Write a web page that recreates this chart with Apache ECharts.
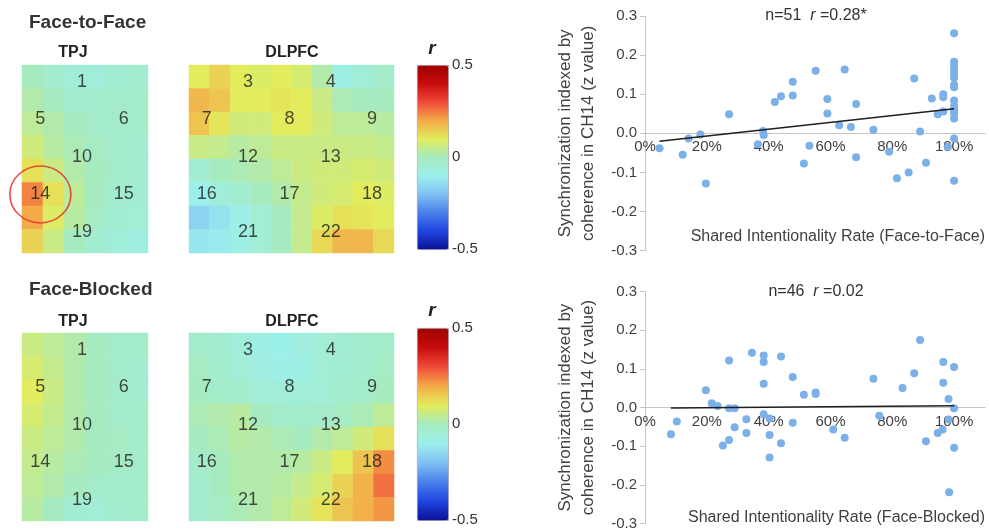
<!DOCTYPE html>
<html><head><meta charset="utf-8">
<script src="https://cdn.jsdelivr.net/npm/echarts@6/dist/echarts.min.js"></script>
<style>html,body{margin:0;padding:0;background:#fff}#c{width:989px;height:531px}</style>
</head><body><div id="c"></div>
<script>
// ---------------- DATA ----------------
// channel labels: [name, column, row]
const tpjChannels = [['1',1,0],['5',0,1],['6',2,1],['10',1,2],['14',0,3],['15',2,3],['19',1,4]];
const dlpfcChannels = [['3',1,0],['4',3,0],['7',0,1],['8',2,1],['9',4,1],['12',1,2],['13',3,2],
  ['16',0,3],['17',2,3],['18',4,3],['21',1,4],['22',3,4]];
const highlightedChannel = '14';

// r values (rows top->bottom, columns left->right)
const tpjFaceToFace = [
  [0.00,-0.03,-0.06,-0.06,-0.04,-0.03],
  [0.02, 0.00,-0.03,-0.03,-0.02,-0.02],
  [0.04, 0.02, 0.00,-0.02,-0.02,-0.02],
  [0.07, 0.03, 0.01,-0.01,-0.02,-0.03],
  [0.12, 0.06, 0.02, 0.00,-0.02,-0.03],
  [0.24, 0.12, 0.04, 0.00,-0.03,-0.04],
  [0.20, 0.09, 0.03,-0.01,-0.04,-0.05],
  [0.14, 0.06, 0.00,-0.04,-0.06,-0.07]
];
const dlpfcFaceToFace = [
  [0.10, 0.14, 0.10, 0.09, 0.10, 0.08, 0.02,-0.08,-0.05,-0.02],
  [0.18, 0.16, 0.10, 0.10, 0.11, 0.10, 0.06, 0.01, 0.00, 0.00],
  [0.16, 0.11, 0.07, 0.07, 0.10, 0.10, 0.07, 0.04, 0.04, 0.03],
  [0.06, 0.05, 0.03, 0.04, 0.06, 0.06, 0.06, 0.06, 0.06, 0.05],
  [-0.04,0.00, 0.01, 0.02, 0.04, 0.06, 0.07, 0.07, 0.08, 0.07],
  [-0.10,-0.06,-0.04,0.00, 0.02, 0.05, 0.07, 0.08, 0.10, 0.09],
  [-0.16,-0.13,-0.09,-0.05,0.00, 0.05, 0.09, 0.12, 0.11, 0.10],
  [-0.12,-0.11,-0.08,-0.05,0.00, 0.05, 0.13, 0.18, 0.18, 0.13]
];
const tpjFaceBlocked = [
  [0.06, 0.04, 0.02, 0.00,-0.02,-0.02],
  [0.08, 0.05, 0.02, 0.00,-0.02,-0.03],
  [0.10, 0.06, 0.02, 0.00,-0.02,-0.03],
  [0.08, 0.05, 0.02, 0.00,-0.02,-0.02],
  [0.06, 0.04, 0.02, 0.00,-0.01,-0.02],
  [0.05, 0.03, 0.01, 0.00,-0.01,-0.02],
  [0.04, 0.02, 0.00,-0.02,-0.02,-0.02],
  [0.03, 0.00,-0.04,-0.05,-0.03,-0.02]
];
const dlpfcFaceBlocked = [
  [-0.02,-0.04,-0.06,-0.08,-0.10,-0.07,-0.05,-0.04,-0.03,-0.02],
  [-0.01,-0.03,-0.05,-0.07,-0.09,-0.08,-0.05,-0.04,-0.03,-0.01],
  [0.00,-0.02,-0.03,-0.05,-0.06,-0.06,-0.05,-0.03,-0.02, 0.00],
  [0.01, 0.02, 0.03, 0.00,-0.02,-0.03,-0.02,-0.01, 0.01, 0.04],
  [0.00, 0.01, 0.03, 0.02, 0.01, 0.00, 0.02, 0.04, 0.07, 0.12],
  [-0.02,0.00, 0.02, 0.02, 0.02, 0.03, 0.06, 0.10, 0.16, 0.23],
  [-0.03,0.00, 0.02, 0.02, 0.03, 0.05, 0.08, 0.14, 0.19, 0.26],
  [-0.03,-0.01,0.01, 0.02, 0.04, 0.07, 0.11, 0.16, 0.19, 0.22]
];
const rBarTicks = [-0.5, 0, 0.5];

// Scatter: Face-to-Face (n=51)
const f2fRate = [0.047,0.122,0.141,0.179,0.197,0.272,0.365,0.382,0.384,0.42,0.44,0.478,0.478,0.514,0.532,
  0.552,0.59,0.59,0.628,0.646,0.666,0.683,0.683,0.739,0.79,0.815,0.853,0.871,0.89,0.909,0.928,0.947,
  0.965,0.965,0.965,0.98,1,1,1,1,1,1,1,1,1,1,1,1,1,1,1];
const f2fSync = [-0.038,-0.055,-0.013,-0.003,-0.128,0.049,-0.028,0.006,-0.004,0.080,0.095,0.132,0.097,-0.077,-0.032,
  0.160,0.088,0.051,0.021,0.163,0.016,0.075,-0.061,0.009,-0.047,-0.115,-0.100,0.140,0.005,-0.075,0.089,0.049,
  0.092,0.100,0.056,-0.034,0.256,0.183,0.173,0.162,0.152,0.142,0.124,0.118,0.084,0.070,0.060,0.051,0.038,-0.013,-0.121];
const f2fFitRate = [0.047, 1.0];
const f2fFitSync = [-0.020, 0.063];

// Scatter: Face-Blocked (n=46)
const fbRate = [0.084,0.103,0.197,0.216,0.235,0.252,0.272,0.272,0.272,0.29,0.29,0.328,0.328,0.346,0.384,0.384,
  0.384,0.384,0.403,0.403,0.403,0.44,0.44,0.478,0.478,0.514,0.552,0.552,0.609,0.646,0.739,0.758,0.833,0.871,
  0.89,0.909,0.947,0.963,0.965,0.965,0.982,0.982,0.984,1,1,1];
const fbSync = [-0.069,-0.036,0.045,0.011,0.004,-0.098,0.122,-0.002,-0.084,-0.002,-0.051,-0.030,-0.066,0.142,0.135,0.118,
  0.062,-0.017,-0.028,-0.071,-0.129,0.132,-0.092,0.079,-0.039,0.033,0.039,0.035,-0.057,-0.078,0.075,-0.021,0.051,0.089,
  0.175,-0.087,-0.066,-0.057,0.118,0.064,0.022,-0.031,-0.219,0.105,-0.002,-0.104];
const fbFitRate = [0.084, 1.0];
const fbFitSync = [-0.001, 0.005];

// ---------------- STYLE / LAYOUT ----------------
const FONT = '"Liberation Sans", Arial, Helvetica, sans-serif';
const rColors = ['#0a1296','#1f45e0','#4a80ea','#80c0f4','#9cf0ec','#a6eac0','#e2ec5c','#f4aa48','#f04a3a','#c80c0c','#a00000'];
const grids = [], xAxes = [], yAxes = [], series = [], visualMaps = [], graphics = [];
const addGrid = g => (grids.push(g), grids.length - 1);
const addX = a => (xAxes.push(a), xAxes.length - 1);
const addY = a => (yAxes.push(a), yAxes.length - 1);

const chanRowRange = [-0.445, 4.56];
const maps = [
  {values: tpjFaceToFace, channels: tpjChannels, left: 22, top: 65, width: 126, height: 188, xr: [-0.44, 2.58], circle: true},
  {values: dlpfcFaceToFace, channels: dlpfcChannels, left: 189, top: 65, width: 205, height: 188, xr: [-0.43, 4.53]},
  {values: tpjFaceBlocked, channels: tpjChannels, left: 22, top: 333, width: 126, height: 188, xr: [-0.44, 2.58]},
  {values: dlpfcFaceBlocked, channels: dlpfcChannels, left: 189, top: 333, width: 205, height: 188, xr: [-0.43, 4.53]}
];

// heatmap series first (indices 0..3)
const mapAxes = [];
maps.forEach(m => {
  const gi = addGrid({left: m.left, top: m.top, width: m.width, height: m.height, show: false});
  const nr = m.values.length, nc = m.values[0].length;
  const xc = addX({type: 'category', gridIndex: gi, data: Array.from({length: nc}, (_, i) => String(i)), show: false});
  const yc = addY({type: 'category', gridIndex: gi, data: Array.from({length: nr}, (_, i) => String(i)), show: false, inverse: true});
  const xv = addX({type: 'value', gridIndex: gi, min: m.xr[0], max: m.xr[1], show: false});
  const yv = addY({type: 'value', gridIndex: gi, min: chanRowRange[0], max: chanRowRange[1], show: false, inverse: true});
  mapAxes.push({xv, yv});
  series.push({
    type: 'heatmap', xAxisIndex: xc, yAxisIndex: yc, silent: true,
    data: m.values.flatMap((row, r) => row.map((v, c) => [c, r, v])),
    emphasis: {disabled: true}
  });
});

maps.forEach((m, i) => {
  const {xv, yv} = mapAxes[i];
  series.push({
    type: 'scatter', xAxisIndex: xv, yAxisIndex: yv, silent: true, z: 5,
    symbolSize: 1, itemStyle: {color: 'rgba(0,0,0,0)'},
    data: m.channels.map(c => ({name: c[0], value: [c[1], c[2]]})),
    label: {show: true, position: 'inside', formatter: '{b}', fontSize: 18, color: '#1e1e1e', fontFamily: FONT}
  });
  if (m.circle) {
    const ch = m.channels.find(c => c[0] === highlightedChannel);
    series.push({
      type: 'scatter', xAxisIndex: xv, yAxisIndex: yv, silent: true, z: 6, clip: false,
      symbol: 'circle', symbolSize: [61, 57],
      itemStyle: {color: 'rgba(0,0,0,0)', borderColor: '#e3262b', borderWidth: 1.6},
      data: [[ch[1], ch[2]]]
    });
  }
});

// colour bars
const bars = [{top: 65, height: 184, series: [0, 1], rY: 49}, {top: 328, height: 192, series: [2, 3], rY: 311}];
bars.forEach(b => {
  visualMaps.push({
    type: 'continuous', seriesIndex: b.series, min: -0.5, max: 0.5, calculable: false, hoverLink: false,
    orient: 'vertical', left: 417, top: b.top, itemWidth: 31, itemHeight: b.height, padding: 0,
    borderColor: '#8a8a8a', borderWidth: 0.8,
    inRange: {color: rColors}
  });
  const gi = addGrid({left: 417, top: b.top, width: 31, height: b.height, show: false});
  addX({type: 'value', gridIndex: gi, show: false, min: 0, max: 1});
  addY({type: 'value', gridIndex: gi, position: 'right', min: rBarTicks[0], max: rBarTicks[2], interval: 0.5,
    axisLine: {show: false}, splitLine: {show: false}, axisTick: {show: false},
    axisLabel: {margin: 4, fontSize: 15, color: '#333', fontFamily: FONT}});
  graphics.push({type: 'text', x: 432, y: b.rY, style: {text: 'r', fontSize: 19, fontWeight: 'bold', fontStyle: 'italic',
    fontFamily: FONT, fill: '#222', textAlign: 'center', textVerticalAlign: 'middle'}});
});

// scatter plots
const scatters = [
  {top: 16, height: 234.7, rate: f2fRate, sync: f2fSync, fitR: f2fFitRate, fitS: f2fFitSync,
    title: 'n=51  {i|r} =0.28*', xname: 'Shared Intentionality Rate (Face-to-Face)', titleY: 16, xnameY: 237},
  {top: 291.7, height: 233.5, rate: fbRate, sync: fbSync, fitR: fbFitRate, fitS: fbFitSync,
    title: 'n=46  {i|r} =0.02', xname: 'Shared Intentionality Rate (Face-Blocked)', titleY: 292, xnameY: 518}
];
const axColor = '#c6c6c6', txtColor = '#404040';
const yMin = -0.3, yMax = 0.3;
scatters.forEach(s => {
  const gi = addGrid({left: 645, top: s.top, width: 340, height: s.height, show: false});
  const xi = addX({type: 'value', gridIndex: gi, min: 0, max: 1.1, interval: 0.2,
    axisLine: {onZero: true, lineStyle: {color: axColor, width: 1}}, axisTick: {show: false}, splitLine: {show: false},
    axisLabel: {show: false}});
  const yi = addY({type: 'value', gridIndex: gi, min: yMin, max: yMax, interval: 0.1,
    axisLine: {show: true, lineStyle: {color: axColor, width: 1}},
    axisTick: {show: true, length: 5, lineStyle: {color: axColor}}, splitLine: {show: false},
    axisLabel: {margin: 8, fontSize: 15, color: txtColor, fontFamily: FONT, formatter: v => v.toFixed(1)},
    name: 'Synchronization indexed by\ncoherence in CH14 (z value)', nameLocation: 'middle', nameGap: 45, nameRotate: 90,
    nameMoveOverlap: false,
    nameTextStyle: {fontSize: 17, lineHeight: 23, color: txtColor, fontFamily: FONT}});
  // tick labels of the x axis sit on the zero line: a label-only axis whose grid ends at y = 0
  const zeroFrac = yMax / (yMax - yMin);
  const gl = addGrid({left: 645, top: s.top, width: 340, height: s.height * zeroFrac, show: false});
  addX({type: 'value', gridIndex: gl, min: 0, max: 1.1, interval: 0.2, position: 'bottom',
    axisLine: {show: false}, axisTick: {show: false}, splitLine: {show: false},
    axisLabel: {margin: 6, fontSize: 15, color: txtColor, fontFamily: FONT,
      formatter: v => v > 1.0001 ? '' : Math.round(v * 100) + '%'}});
  addY({type: 'value', gridIndex: gl, min: 0, max: 1, show: false});
  series.push({type: 'scatter', xAxisIndex: xi, yAxisIndex: yi, symbolSize: 8, silent: true, z: 3,
    itemStyle: {color: '#7cb0e8', opacity: 1},
    data: s.rate.map((r, k) => [r, s.sync[k]])});
  series.push({type: 'line', xAxisIndex: xi, yAxisIndex: yi, symbol: 'none', silent: true, z: 4,
    lineStyle: {color: '#1f1f1f', width: 1.5},
    data: s.fitR.map((r, k) => [r, s.fitS[k]])});
  graphics.push({type: 'text', x: 816, y: s.titleY, style: {text: s.title, fontSize: 16, fontFamily: FONT, fill: '#333',
    textAlign: 'center', textVerticalAlign: 'middle',
    rich: {i: {fontStyle: 'italic', fontSize: 16, fontFamily: FONT, fill: '#333'}}}});
  graphics.push({type: 'text', x: 985, y: s.xnameY, style: {text: s.xname, fontSize: 16, fontFamily: FONT, fill: txtColor,
    textAlign: 'right', textVerticalAlign: 'middle'}});
});

// headings
[['Face-to-Face', 23], ['Face-Blocked', 290]].forEach(h => graphics.push({type: 'text', x: 29, y: h[1],
  style: {text: h[0], fontSize: 19, fontWeight: 'bold', fontFamily: FONT, fill: '#333', textVerticalAlign: 'middle'}}));
[[53], [321.5]].forEach(h => {
  graphics.push({type: 'text', x: 73, y: h[0], style: {text: 'TPJ', fontSize: 16, fontWeight: 'bold', fontFamily: FONT,
    fill: '#222', textAlign: 'center', textVerticalAlign: 'middle'}});
  graphics.push({type: 'text', x: 292, y: h[0], style: {text: 'DLPFC', fontSize: 16, fontWeight: 'bold', fontFamily: FONT,
    fill: '#222', textAlign: 'center', textVerticalAlign: 'middle'}});
});

const chart = echarts.init(document.getElementById('c'), null, {renderer: 'canvas'});
chart.setOption({
  animation: false,
  backgroundColor: '#fff',
  textStyle: {fontFamily: FONT},
  grid: grids, xAxis: xAxes, yAxis: yAxes,
  visualMap: visualMaps,
  series: series,
  graphic: graphics
});
</script>
</body></html>
